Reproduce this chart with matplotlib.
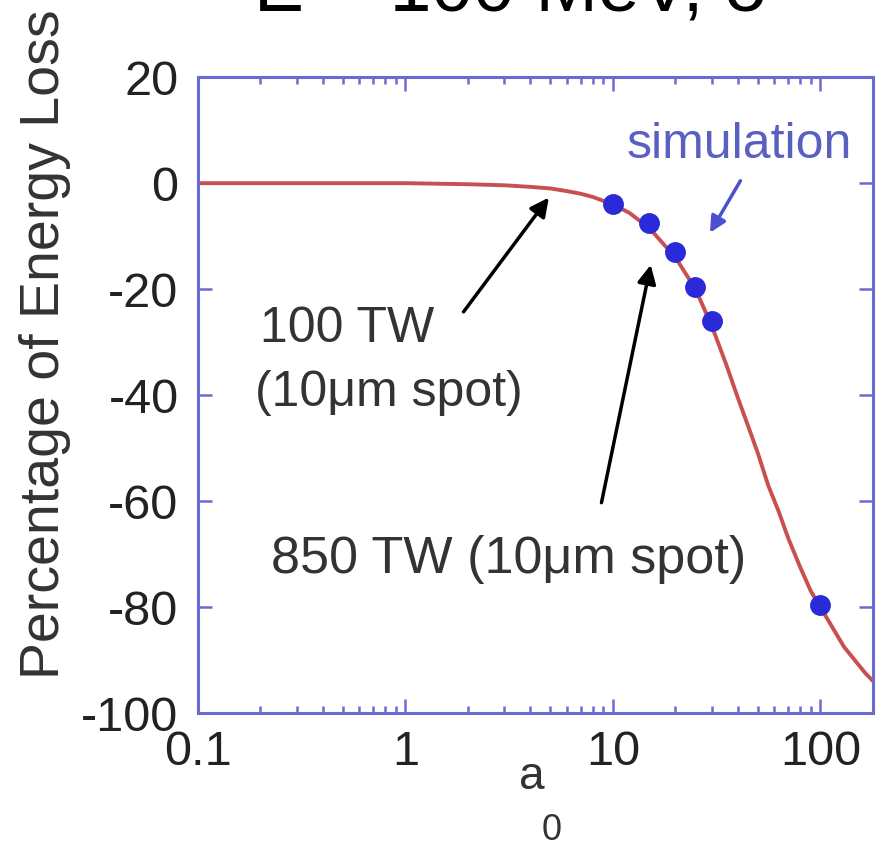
import numpy as np
import matplotlib
matplotlib.use("Agg")
import matplotlib.pyplot as plt

plt.rcParams['font.family'] = ['Liberation Sans', 'DejaVu Sans']
plt.rcParams['axes.unicode_minus'] = False

# courbe
a0_curve = [0.1, 1, 2, 3, 4, 5, 6, 7, 8, 10, 12, 15, 18, 20, 25, 30, 35, 40, 45, 50,
            56, 63, 70, 80, 90, 100, 115, 130, 150, 165, 180]
loss_curve = [0, 0, -0.2, -0.4, -0.7, -1.0, -1.5, -2.0, -2.6, -4.0, -5.6, -8.5, -12, -14, -20, -27, -34, -40.5, -46, -51,
              -57, -62, -67, -72.5, -77, -80, -84, -87.5, -90.5, -92.5, -94]

# points de simulation
a0_sim = [10, 15, 20, 25, 30, 100]
loss_sim = [-4, -7.5, -13, -19.5, -26, -79.5]

spine_col = '#6a6ad0'
red = '#c85050'
blue = '#2a2ad8'
txt = '#333333'

fig = plt.figure(figsize=(8.76, 8.48), dpi=100)
ax = fig.add_axes([0.226, 0.159, 0.771, 0.750])

ax.plot(a0_curve, loss_curve, color=red, lw=2.8, zorder=2)
ax.plot(a0_sim, loss_sim, 'o', color=blue, ms=14, zorder=3)

ax.set_xscale('log')
ax.set_xlim(0.1, 180)
ax.set_ylim(-100, 20)
ax.set_yticks([-100, -80, -60, -40, -20, 0, 20])
ax.set_xticks([0.1, 1, 10, 100])
ax.set_xticklabels(['0.1', '1', '10', '100'])

for s in ax.spines.values():
    s.set_color(spine_col)
    s.set_linewidth(2.2)
ax.tick_params(which='both', direction='in', top=True, right=True, color=spine_col,
               labelsize=35, width=1.8, labelcolor='#222222')
ax.tick_params(which='major', length=10)
ax.tick_params(which='minor', length=5)
ax.tick_params(axis='y', pad=14)
ax.tick_params(axis='x', pad=12)

ax.set_ylabel('Percentage of Energy Loss', fontsize=40, color=txt)
ax.yaxis.set_label_coords(-0.188, 0.58)

# a_0 (centré sous l'axe)
fig.text(0.607, 0.070, 'a', fontsize=33, ha='center', va='baseline', color=txt)
fig.text(0.630, 0.010, '0', fontsize=26, ha='center', va='baseline', color=txt)

# titre coupé
fig.text(0.585, 0.986, 'E = 100 MeV, \u03c3', fontsize=54, ha='center', va='baseline', color='black')

# annotations
ax.annotate('', xy=(5.0, -2.3), xytext=(1.87, -24.7),
            arrowprops=dict(arrowstyle='-|>', color='black', lw=2.5, mutation_scale=28))
ax.text(0.2, -27.5, '100 TW', fontsize=36, color=txt, va='center')
ax.text(0.188, -39.5, '(10\u03bcm spot)', fontsize=36, color=txt, va='center')

ax.annotate('', xy=(15.3, -14.9), xytext=(8.75, -60.8),
            arrowprops=dict(arrowstyle='-|>', color='black', lw=2.5, mutation_scale=28))
ax.text(0.224, -71, '850 TW (10\u03bcm spot)', fontsize=37.5, color=txt, va='center')

ax.annotate('', xy=(28.9, -9.8), xytext=(41.8, 0.9),
            arrowprops=dict(arrowstyle='-|>', color='#4a50d0', lw=2.5, mutation_scale=24))
ax.text(40.5, 7.2, 'simulation', fontsize=36, color='#5a60c0', ha='center', va='center')

fig.savefig('out.png', dpi=100)
